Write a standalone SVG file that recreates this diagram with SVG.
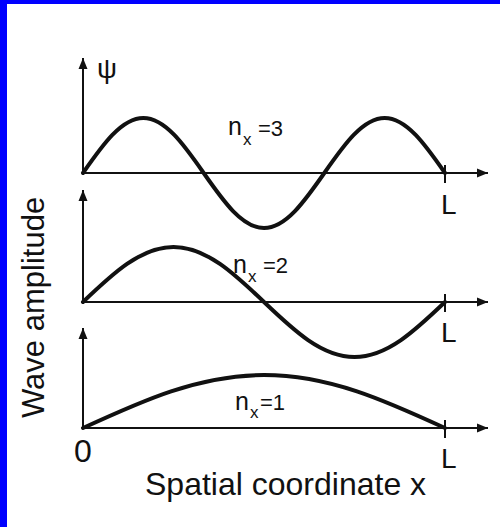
<svg xmlns="http://www.w3.org/2000/svg" width="500" height="527" viewBox="0 0 500 527">
  <style>
    .axis { stroke: #111; stroke-width: 2; fill: none; }
    .tick { stroke: #111; stroke-width: 2; }
    .wave { stroke: #111; stroke-width: 4; fill: none; stroke-linecap: round; stroke-linejoin: round; }
    text { font-family: "Liberation Sans", Arial, sans-serif; fill: #111; }
    .big { font-size: 32px; }
    .lab { font-size: 22px; }
    .n { font-size: 25px; }
    .sub { font-size: 17px; }
    .L { font-size: 28px; }
  </style>
  <defs>
    <marker id="arr" markerUnits="userSpaceOnUse" markerWidth="12" markerHeight="10" refX="11" refY="5" orient="auto">
      <path d="M0,0.5 L11,5 L0,9.5 Z" fill="#111"/>
    </marker>
  </defs>
  <rect x="0" y="0" width="500" height="527" fill="#fff"/>
  <g id="frame">
    <rect x="0" y="0" width="500" height="4" fill="#0000ff"/>
    <rect x="0" y="0" width="7" height="527" fill="#0000ff"/>
  </g>
  <g id="connectors">
    <line class="axis" x1="83" y1="174" x2="83" y2="58" marker-end="url(#arr)"/>
    <line class="axis" x1="82" y1="173" x2="488" y2="173" marker-end="url(#arr)"/>
    <line class="tick" x1="445" y1="165" x2="445" y2="183"/>
    <line class="axis" x1="83" y1="303" x2="83" y2="190" marker-end="url(#arr)"/>
    <line class="axis" x1="82" y1="302" x2="488" y2="302" marker-end="url(#arr)"/>
    <line class="tick" x1="445" y1="294" x2="445" y2="312"/>
    <line class="axis" x1="83" y1="429" x2="83" y2="328" marker-end="url(#arr)"/>
    <line class="axis" x1="82" y1="428" x2="488" y2="428" marker-end="url(#arr)"/>
    <line class="tick" x1="445" y1="420" x2="445" y2="438"/>
  </g>
  <g id="wave-n3">
    <path class="wave" d="M83,173 C102.67,144.82 121.52,118 143.33,118 S184,144.82 203.67,173 S242.19,228 264,228 S304.66,201.18 324.33,173 S362.85,118 384.67,118 S425.33,144.82 445,173"/>
    <text x="228" y="135"><tspan class="n">n</tspan><tspan class="sub" x="243" y="145">x</tspan><tspan class="lab" x="258" y="136">=3</tspan></text>
  </g>
  <g id="wave-n2">
    <path class="wave" d="M83,302 C112.5,273.82 140.78,247 173.5,247 S234.5,273.82 264,302 S321.78,357 354.5,357 S415.5,330.18 445,302"/>
    <text x="233" y="273"><tspan class="n">n</tspan><tspan class="sub" x="248" y="282">x</tspan><tspan class="lab" x="263" y="273">=2</tspan></text>
  </g>
  <g id="wave-n1">
    <path class="wave" d="M83,428 C142,400.85 198.57,375 264,375 S386,400.85 445,428"/>
    <text x="235" y="410"><tspan class="n">n</tspan><tspan class="sub" x="250" y="418">x</tspan><tspan class="lab" x="260" y="410">=1</tspan></text>
  </g>
  <g id="labels">
    <text x="97" y="78" font-size="28">ψ</text>
    <text class="L" x="441" y="214">L</text>
    <text class="L" x="441" y="342">L</text>
    <text class="L" x="441" y="468">L</text>
    <text class="big" x="74" y="462">0</text>
    <text class="big" x="145" y="495">Spatial coordinate x</text>
    <text font-size="31" transform="translate(44,418) rotate(-90)">Wave amplitude</text>
  </g>
</svg>
